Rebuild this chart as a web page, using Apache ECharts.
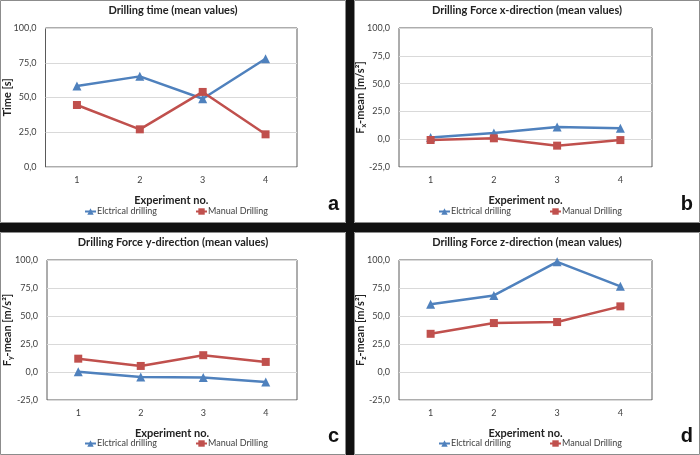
<!DOCTYPE html>
<html><head><meta charset="utf-8">
<script src="https://cdn.jsdelivr.net/npm/echarts@6/dist/echarts.min.js"></script>
<style>html,body{margin:0;padding:0;background:#fff}#c{width:700px;height:455px}</style>
</head><body><div id="c"></div>
<script>
const categories = ['1', '2', '3', '4'];
const seriesNames = ['Elctrical drilling', 'Manual Drilling'];
const timeElec = [58.3, 65.2, 49.1, 77.9];
const timeMan = [44.6, 27.1, 54.0, 23.5];
const fxElec = [1.5, 5.6, 11.0, 9.8];
const fxMan = [-0.7, 0.8, -5.8, -0.8];
const fyElec = [0.2, -4.5, -5.0, -9.0];
const fyMan = [11.9, 5.4, 15.0, 9.0];
const fzElec = [60.4, 68.4, 98.4, 76.5];
const fzMan = [34.1, 43.7, 44.6, 58.6];
const titles = ['Drilling time (mean values)', 'Drilling Force x-direction (mean values)', 'Drilling Force y-direction (mean values)', 'Drilling Force z-direction (mean values)'];
const yNames = ['Time [s]', 'F{s|x}-mean [m/s²]', 'F{s|y}-mean [m/s²]', 'F{s|z}-mean [m/s²]'];
const yMins = [0, -25, -25, -25];
const yMax = 100;
const yInterval = 25;
const xName = 'Experiment no.';
const panelLetters = ['a', 'b', 'c', 'd'];

const FONT = 'Lato';
const BLUE = '#4F81BD', RED = '#C0504D';
const panels = [
  {px: 0, py: 0, gl: 45, gt: 28, gw: 252, gh: 139, cx: 173, gap: 31.5},
  {px: 354, py: 0, gl: 399, gt: 28, gw: 253, gh: 139, cx: 527, gap: 32},
  {px: 0, py: 232, gl: 45, gt: 260, gw: 252, gh: 140, cx: 173, gap: 33},
  {px: 354, py: 232, gl: 399, gt: 260, gw: 253, gh: 140, cx: 527, gap: 32}
];
const elecData = [timeElec, fxElec, fyElec, fzElec];
const manData = [timeMan, fxMan, fyMan, fzMan];

const fmt = v => v.toFixed(1).replace('.', ',');
const grid = [], xAxis = [], yAxis = [], series = [], title = [], legend = [], graphic = [];

graphic.push({type: 'rect', shape: {x: 346, y: 0, width: 8, height: 455}, style: {fill: '#111'}, z: 0});
graphic.push({type: 'rect', shape: {x: 0, y: 223, width: 700, height: 9}, style: {fill: '#111'}, z: 0});

panels.forEach((p, i) => {
  graphic.push({type: 'rect', shape: {x: p.px + 0.5, y: p.py + 0.5, width: 345, height: 222}, style: {fill: null, stroke: '#8c8c8c', lineWidth: 1}, z: 0});
  graphic.push({type: 'text', x: p.px + 339, y: p.py + 214, style: {text: panelLetters[i], font: 'bold 20px "Liberation Sans"', fill: '#111', textAlign: 'right', textVerticalAlign: 'bottom'}});
  grid.push({left: p.gl, top: p.gt, width: p.gw, height: p.gh, show: true, borderColor: '#5a5a5a', borderWidth: 1, containLabel: false});
  title.push({text: titles[i], left: p.cx, top: p.py + 5, padding: 0, textAlign: 'center', textStyle: {fontFamily: FONT, fontWeight: 'bold', fontSize: 11, color: '#222'}});
  xAxis.push({type: 'category', gridIndex: i, data: categories, boundaryGap: true,
    axisLine: {show: false}, axisTick: {show: false},
    axisLabel: {fontFamily: FONT, fontSize: 9, color: '#404040', margin: 9},
    name: xName, nameLocation: 'middle', nameGap: 28, nameMoveOverlap: false,
    nameTextStyle: {fontFamily: FONT, fontWeight: 'bold', fontSize: 11, color: '#222'}});
  yAxis.push({type: 'value', gridIndex: i, min: yMins[i], max: yMax, interval: yInterval,
    axisLine: {show: false}, axisTick: {show: false},
    splitLine: {lineStyle: {color: '#d9d9d9', width: 1}},
    axisLabel: {fontFamily: FONT, fontSize: 9, color: '#404040', margin: 9, formatter: fmt},
    name: yNames[i], nameLocation: 'middle', nameGap: p.gap, nameMoveOverlap: false,
    nameTextStyle: {fontFamily: FONT, fontWeight: 'bold', fontSize: 11, color: '#222', lineHeight: 13,
      rich: {s: {fontFamily: FONT, fontWeight: 'bold', fontSize: 7, color: '#222', lineHeight: 7, verticalAlign: 'bottom'}}}});
  series.push({name: seriesNames[0], type: 'line', xAxisIndex: i, yAxisIndex: i, data: elecData[i],
    symbol: 'triangle', symbolSize: 9, lineStyle: {color: BLUE, width: 2.5}, itemStyle: {color: BLUE}, animation: false});
  series.push({name: seriesNames[1], type: 'line', xAxisIndex: i, yAxisIndex: i, data: manData[i],
    symbol: 'rect', symbolSize: 8, lineStyle: {color: RED, width: 2.5}, itemStyle: {color: RED}, animation: false});
  legend.push({data: seriesNames, left: p.px + 84, top: p.py + 207, padding: 0, itemWidth: 11, itemHeight: 8, itemGap: 38,
    textStyle: {fontFamily: FONT, fontSize: 9, color: '#404040', padding: [0, 0, 0, -4]}});
});

const chart = echarts.init(document.getElementById('c'), null, {renderer: 'canvas'});
chart.setOption({animation: false, backgroundColor: '#fff', title, legend, grid, xAxis, yAxis, series, graphic});
</script></body></html>
